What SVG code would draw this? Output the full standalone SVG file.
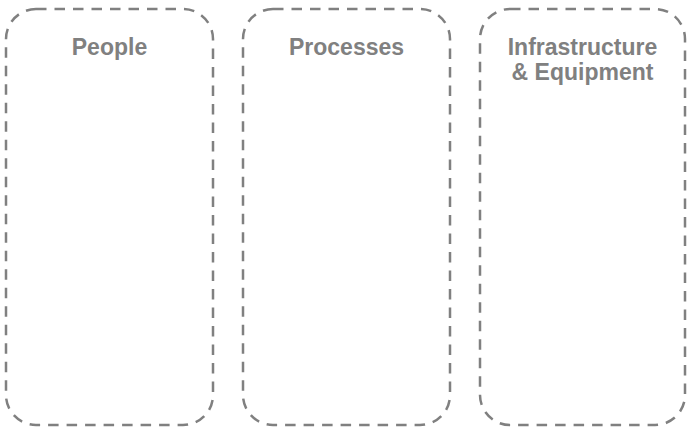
<svg xmlns="http://www.w3.org/2000/svg" width="687" height="433" viewBox="0 0 687 433">
<style>
.box{fill:none;stroke:#808080;stroke-width:2.5;stroke-dasharray:10.5 8}
.lbl{font-family:"Liberation Sans",Arial,sans-serif;font-weight:bold;font-size:23px;fill:#808080;text-anchor:middle}
</style>
<rect width="687" height="433" fill="#ffffff"/>
<g id="people">
<rect class="box" x="6" y="9" width="207" height="416" rx="30" ry="30"/>
<text class="lbl" x="109.5" y="55">People</text>
</g>
<g id="processes">
<rect class="box" x="243" y="9" width="207" height="416" rx="30" ry="30"/>
<text class="lbl" x="346.5" y="55">Processes</text>
</g>
<g id="infrastructure">
<rect class="box" x="480" y="9" width="205" height="416" rx="30" ry="30"/>
<text class="lbl" x="582.5" y="55">Infrastructure</text>
<text class="lbl" x="582.5" y="80">&amp; Equipment</text>
</g>
<g id="connectors"/>
</svg>
